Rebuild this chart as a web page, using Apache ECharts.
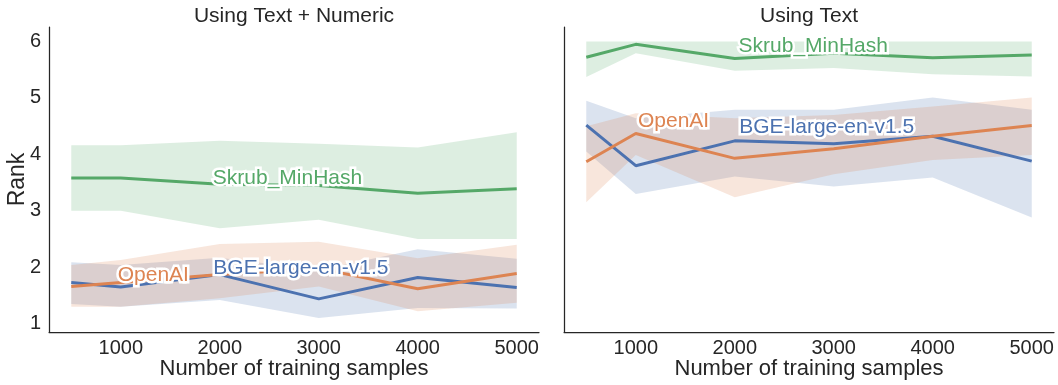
<!DOCTYPE html>
<html>
<head>
<meta charset="utf-8">
<script src="https://cdn.jsdelivr.net/npm/echarts@6/dist/echarts.min.js"></script>
<style>
  html, body { margin: 0; padding: 0; background: #fff; }
  #chart { width: 1058px; height: 385px; }
</style>
</head>
<body>
<div id="chart"></div>
<script>
// x positions and ticks
const samples = [500, 1000, 2000, 3000, 4000, 5000]
const xTicks = [1000, 2000, 3000, 4000, 5000]
const yTicks = [1, 2, 3, 4, 5, 6]
const models = ['BGE-large-en-v1.5', 'OpenAI', 'Skrub_MinHash']
const colors = ['#4c72b0', '#dd8452', '#55a868']
const panelTitles = ['Using Text + Numeric', 'Using Text']

// Using Text + Numeric (left panel)
const numBgeMean = [1.73, 1.65, 1.87, 1.44, 1.82, 1.64]
const numBgeLow = [1.35, 1.30, 1.42, 1.10, 1.28, 1.27]
const numBgeHigh = [2.09, 2.04, 2.17, 1.95, 2.32, 2.15]
const numOpenaiMean = [1.66, 1.73, 1.87, 1.98, 1.62, 1.89]
const numOpenaiLow = [1.30, 1.30, 1.45, 1.66, 1.22, 1.37]
const numOpenaiHigh = [2.04, 2.13, 2.41, 2.45, 2.16, 2.40]
const numSkrubMean = [3.58, 3.58, 3.47, 3.45, 3.31, 3.39]
const numSkrubLow = [3.00, 3.00, 2.69, 2.84, 2.50, 2.50]
const numSkrubHigh = [4.16, 4.16, 4.24, 4.19, 4.12, 4.39]

// Using Text (right panel)
const txtBgeMean = [4.52, 3.80, 4.24, 4.19, 4.32, 3.88]
const txtBgeLow = [4.05, 3.30, 3.61, 3.43, 3.59, 2.88]
const txtBgeHigh = [4.95, 4.64, 4.79, 4.79, 5.01, 4.79]
const txtOpenaiMean = [3.87, 4.37, 3.93, 4.10, 4.32, 4.51]
const txtOpenaiLow = [3.15, 3.99, 3.24, 3.65, 3.90, 3.99]
const txtOpenaiHigh = [4.50, 4.73, 4.64, 4.70, 4.85, 5.01]
const txtSkrubMean = [5.72, 5.95, 5.70, 5.79, 5.71, 5.76]
const txtSkrubLow = [5.37, 5.79, 5.48, 5.53, 5.42, 5.38]
const txtSkrubHigh = [6.00, 6.00, 6.00, 6.00, 6.00, 6.00]

// inline label anchors [x, y] (left edge of the text)
const numLabelPos = [[1935, 1.99], [969, 1.855], [1930, 3.58]]
const txtLabelPos = [[2045, 4.478], [1022, 4.596], [2038, 5.924]]

const panels = [
  {
    mean: [numBgeMean, numOpenaiMean, numSkrubMean],
    low: [numBgeLow, numOpenaiLow, numSkrubLow],
    high: [numBgeHigh, numOpenaiHigh, numSkrubHigh],
    labels: numLabelPos
  },
  {
    mean: [txtBgeMean, txtOpenaiMean, txtSkrubMean],
    low: [txtBgeLow, txtOpenaiLow, txtSkrubLow],
    high: [txtBgeHigh, txtOpenaiHigh, txtSkrubHigh],
    labels: txtLabelPos
  }
]

const textColor = '#262626'
const fontFamily = '"Liberation Sans", Arial, sans-serif'

const hexToRgba = (hex, a) => {
  const n = parseInt(hex.slice(1), 16)
  return `rgba(${(n >> 16) & 255}, ${(n >> 8) & 255}, ${n & 255}, ${a})`
}

const labelSeries = (p, pos, name, color, halo) => ({
  type: 'scatter',
  xAxisIndex: p,
  yAxisIndex: p,
  z: halo ? 3 : 4,
  symbolSize: 0,
  silent: true,
  itemStyle: { opacity: 1 },
  data: [pos],
  label: {
    show: true,
    position: 'right',
    distance: 0,
    opacity: 1,
    formatter: name,
    color: halo ? '#fff' : color,
    fontSize: 21,
    fontFamily: fontFamily,
    textBorderColor: halo ? '#fff' : 'transparent',
    textBorderWidth: halo ? 5 : 0
  }
})

const series = []
panels.forEach((panel, p) => {
  models.forEach((name, m) => {
    const low = panel.low[m]
    const high = panel.high[m]
    // confidence band as one polygon
    series.push({
      type: 'custom',
      xAxisIndex: p,
      yAxisIndex: p,
      z: 1,
      silent: true,
      data: samples.map((x, i) => [x, low[i], high[i]]),
      encode: { x: 0, y: [1, 2] },
      renderItem: (params, api) => {
        if (params.dataIndex !== 0) return
        const upper = samples.map((x, i) => api.coord([x, high[i]]))
        const lower = samples.map((x, i) => api.coord([x, low[i]])).reverse()
        return {
          type: 'polygon',
          shape: { points: upper.concat(lower) },
          style: { fill: hexToRgba(colors[m], 0.2), stroke: null }
        }
      }
    })
    // mean line
    series.push({
      type: 'line',
      name: name,
      xAxisIndex: p,
      yAxisIndex: p,
      z: 2,
      symbol: 'none',
      silent: true,
      lineStyle: { color: colors[m], width: 3 },
      data: samples.map((x, i) => [x, panel.mean[m][i]])
    })
    // inline label: white halo underneath, coloured text on top
    series.push(labelSeries(p, panel.labels[m], name, colors[m], true))
    series.push(labelSeries(p, panel.labels[m], name, colors[m], false))
  })
})

const grids = [
  { left: 49, top: 27, width: 490, height: 305, outerBoundsMode: 'none' },
  { left: 564, top: 27, width: 490, height: 305, outerBoundsMode: 'none' }
]

const xAxes = grids.map((g, i) => ({
  type: 'value',
  gridIndex: i,
  min: 275,
  max: 5225,
  name: 'Number of training samples',
  nameLocation: 'middle',
  nameGap: 26,
  nameMoveOverlap: false,
  nameTextStyle: { color: textColor, fontSize: 22, fontFamily: fontFamily },
  axisLine: { show: true, lineStyle: { color: textColor, width: 1.25 } },
  axisTick: { show: false },
  splitLine: { show: false },
  axisLabel: {
    customValues: xTicks,
    formatter: (v) => String(v),
    color: textColor,
    fontSize: 20,
    fontFamily: fontFamily,
    margin: 6
  }
}))

const yAxes = grids.map((g, i) => ({
  type: 'value',
  gridIndex: i,
  min: 0.853,
  max: 6.257,
  name: i === 0 ? 'Rank' : '',
  nameLocation: 'middle',
  nameGap: 20,
  nameMoveOverlap: false,
  nameTextStyle: { color: textColor, fontSize: 23, fontFamily: fontFamily },
  axisLine: { show: true, lineStyle: { color: textColor, width: 1.25 } },
  axisTick: { show: false },
  splitLine: { show: false },
  axisLabel: {
    show: i === 0,
    customValues: yTicks,
    formatter: (v) => String(v),
    color: textColor,
    fontSize: 20,
    fontFamily: fontFamily,
    margin: 8
  }
}))

const chart = echarts.init(document.getElementById('chart'))
chart.setOption({
  backgroundColor: '#fff',
  animation: false,
  title: panelTitles.map((t, i) => ({
    text: t,
    left: grids[i].left + grids[i].width / 2,
    top: 6,
    textAlign: 'center',
    padding: 0,
    textStyle: { color: textColor, fontSize: 21, fontWeight: 'normal', fontFamily: fontFamily }
  })),
  grid: grids,
  xAxis: xAxes,
  yAxis: yAxes,
  series: series
})
</script>
</body>
</html>
